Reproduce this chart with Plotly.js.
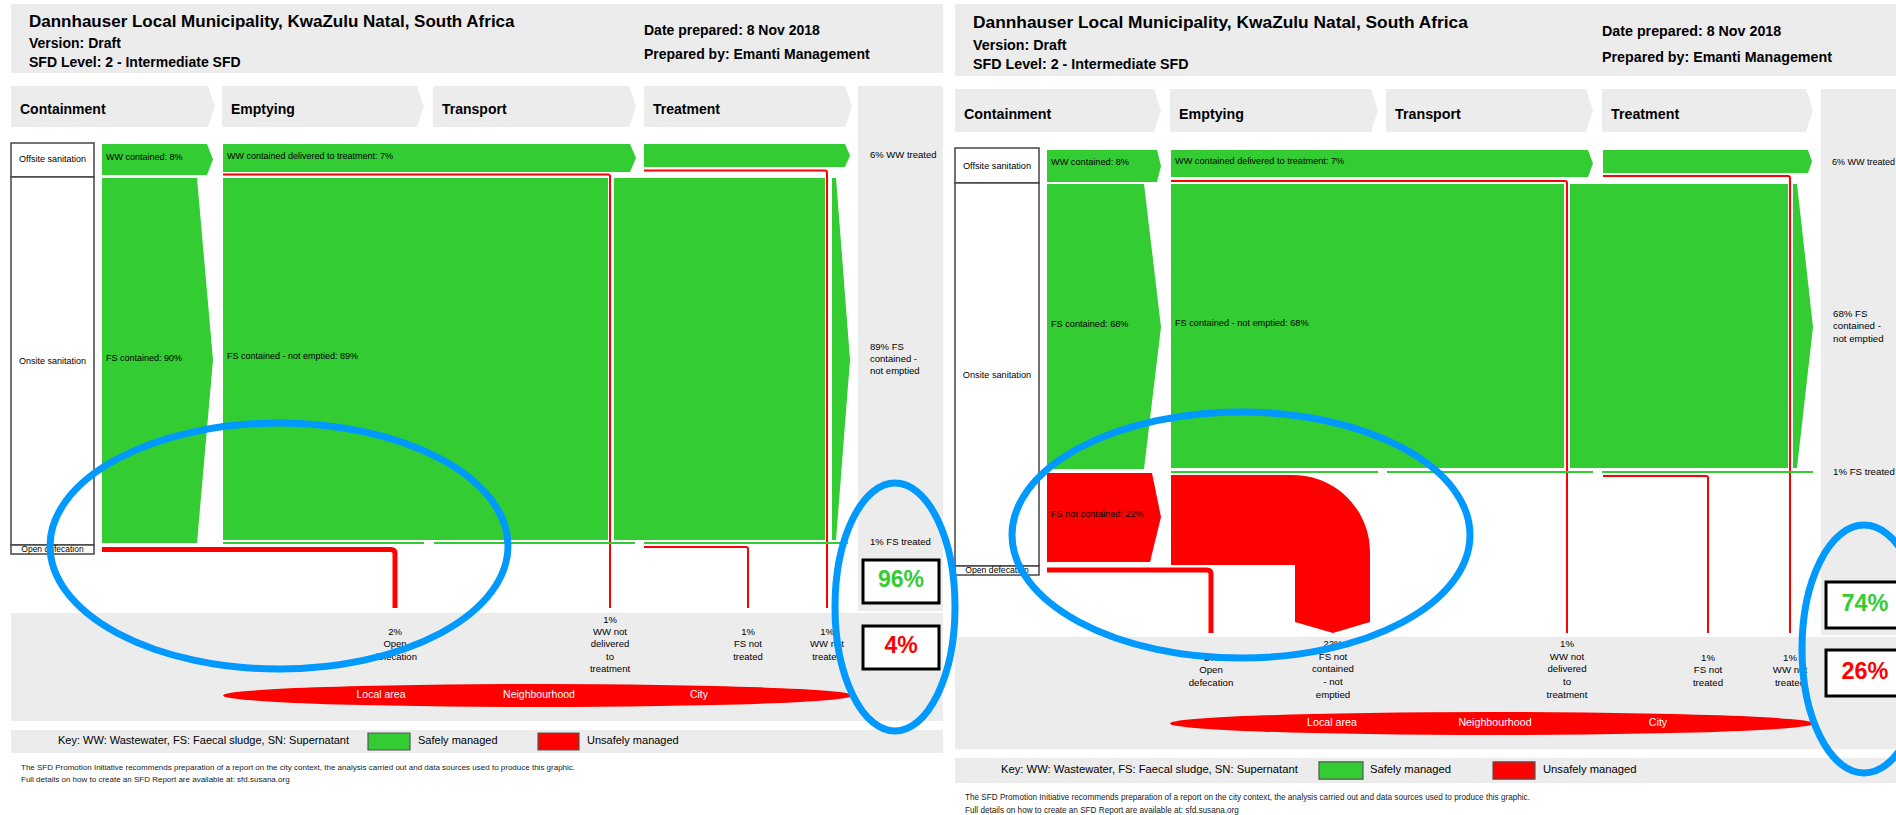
<!DOCTYPE html>
<html><head><meta charset="utf-8">
<script src="https://cdn.plot.ly/plotly-3.0.1.min.js"></script>
<style>html,body{margin:0;padding:0;background:#fff;overflow:hidden}#chart{width:1896px;height:815px}</style>
</head><body><div id="chart"></div>
<script>
// ---------------- DATA ----------------
const reportTitle = "Dannhauser Local Municipality, KwaZulu Natal, South Africa";
const reportMeta = ["Version: Draft", "SFD Level: 2 - Intermediate SFD"];
const reportPrep = ["Date prepared: 8 Nov 2018", "Prepared by: Emanti Management"];
const stageNames = ["Containment", "Emptying", "Transport", "Treatment"];
const systemRows = ["Offsite sanitation", "Onsite sanitation", "Open defecation"];
const impactAreas = ["Local area", "Neighbourhood", "City"];
const keyLabels = ["Key: WW: Wastewater, FS: Faecal sludge, SN: Supernatant", "Safely managed", "Unsafely managed"];
const footnoteLines = [
  "The SFD Promotion Initiative recommends preparation of a report on the city context, the analysis carried out and data sources used to produce this graphic.",
  "Full details on how to create an SFD Report are available at: sfd.susana.org"
];
// flow values in % : [left diagram, right diagram]
const wwContained = [8, 8];
const wwDelivered = [7, 7];
const wwTreated = [6, 6];
const wwNotDelivered = [1, 1];
const wwNotTreated = [1, 1];
const fsContained = [90, 68];
const fsContainedNotEmptied = [89, 68];
const fsTreated = [1, 1];
const fsNotTreated = [1, 1];
const fsNotContained = [null, 22];
const fsNotContainedNotEmptied = [null, 22];
const openDefecation = [2, 2];
const safelyManaged = [96, 74];
const unsafelyManaged = [4, 26];

// ---------------- HELPERS ----------------
const FONT = "Liberation Sans, Arial, Helvetica, sans-serif";
const GREEN = "#33cc33", RED = "#ff0000", GRAY = "#ececec", BLUE = "#0099ff";
const shapes = [];
const traces = [];

function rect(x0, y0, x1, y1, fill, lc, lw, layer) {
  shapes.push({type: 'rect', xref: 'x', yref: 'y', x0, y0, x1, y1, fillcolor: fill,
    line: {color: lc || 'rgba(0,0,0,0)', width: lw || 0}, layer: layer || 'below'});
}
function poly(pts, fill) {
  const d = 'M' + pts.map(p => p[0] + ',' + p[1]).join('L') + 'Z';
  shapes.push({type: 'path', xref: 'x', yref: 'y', path: d, fillcolor: fill, line: {width: 0}, layer: 'below'});
}
function pathFill(d, fill) {
  shapes.push({type: 'path', xref: 'x', yref: 'y', path: d, fillcolor: fill, line: {width: 0}, layer: 'below'});
}
function stroke(d, color, width) {
  shapes.push({type: 'path', xref: 'x', yref: 'y', path: d, fillcolor: 'rgba(0,0,0,0)', line: {color, width}, layer: 'below'});
}
function ellipse(x0, y0, x1, y1, fill, lc, lw, layer) {
  shapes.push({type: 'circle', xref: 'x', yref: 'y', x0, y0, x1, y1, fillcolor: fill || 'rgba(0,0,0,0)',
    line: {color: lc || 'rgba(0,0,0,0)', width: lw || 0}, layer: layer || 'below'});
}
function text(x, y, t, size, opt) {
  opt = opt || {};
  traces.push({type: 'scatter', mode: 'text', x: [x], y: [y], text: [t],
    textposition: opt.pos || 'middle right',
    textfont: {family: FONT, size: size, color: opt.color || '#000'},
    hoverinfo: 'skip', showlegend: false, cliponaxis: false});
}
function chev(x0, y0, xb, xt, y1) { return [[x0, y0], [xb, y0], [xt, (y0 + y1) / 2], [xb, y1], [x0, y1]]; }
function baseY(b, fs) { return b - 0.25 * fs; }

function drawFrame(g, s) {
  // header
  rect(g.hdr[0], g.hdr[1], g.hdr[2], g.hdr[3], GRAY);
  text(g.titleX, baseY(g.titleB, 17 * s), '<b>' + reportTitle + '</b>', 17 * s);
  text(g.titleX, baseY(g.metaB[0], 14 * s), '<b>' + reportMeta[0] + '</b>', 14 * s);
  text(g.titleX, baseY(g.metaB[1], 14 * s), '<b>' + reportMeta[1] + '</b>', 14 * s);
  text(g.dateX, baseY(g.dateB[0], 14 * s), '<b>' + reportPrep[0] + '</b>', 14 * s);
  text(g.dateX, baseY(g.dateB[1], 14 * s), '<b>' + reportPrep[1] + '</b>', 14 * s);
  // stage chevrons
  stageNames.forEach((n, i) => {
    const sx = g.stageX[i];
    poly(chev(sx[0], g.stageY[0], sx[1] - 7, sx[1], g.stageY[1]), GRAY);
    text(sx[0] + 9, baseY(g.stageB, 14 * s), '<b>' + n + '</b>', 14 * s);
  });
  // right summary column and bottom band
  rect(g.rightCol[0], g.rightCol[1], g.rightCol[2], g.rightCol[3], GRAY);
  rect(g.band[0], g.band[1], g.band[2], g.band[3], GRAY);
  // row label boxes
  for (let i = 0; i < 3; i++) {
    rect(g.rowX[0], g.rowY[i], g.rowX[1], g.rowY[i + 1], '#ffffff', '#444', 1.5);
    text((g.rowX[0] + g.rowX[1]) / 2, g.rowLabelY[i], systemRows[i], (i === 2 ? 8.5 : 9) * s, {pos: 'middle center'});
  }
  // impact ellipse
  ellipse(g.impact[0], g.impact[1], g.impact[2], g.impact[3], RED);
  impactAreas.forEach((a, i) => text(g.impactX[i], (g.impact[1] + g.impact[3]) / 2, a, 10.5 * s, {pos: 'middle center', color: '#ffffff'}));
  // key
  rect(g.key[0], g.key[1], g.key[2], g.key[3], GRAY);
  const ky = (g.key[1] + g.key[3]) / 2;
  text(g.keyX[0], ky, keyLabels[0], 11 * s);
  rect(g.keyBox[0][0], ky - 8.5 * s, g.keyBox[0][1], ky + 8.5 * s, GREEN, '#555', 1.2);
  text(g.keyX[1], ky, keyLabels[1], 11 * s);
  rect(g.keyBox[1][0], ky - 8.5 * s, g.keyBox[1][1], ky + 8.5 * s, RED, '#555', 1.2);
  text(g.keyX[2], ky, keyLabels[2], 11 * s);
  // footnote
  text(g.footX, g.footY[0], footnoteLines[0], 8 * s, {color: '#222'});
  text(g.footX, g.footY[1], footnoteLines[1], 8 * s, {color: '#222'});
}
function drawOutcome(g, s, k) {
  const b1 = g.okBox, b2 = g.badBox;
  rect(b1[0], b1[1], b1[2], b1[3], '#ffffff', '#000', 3);
  rect(b2[0], b2[1], b2[2], b2[3], '#ffffff', '#000', 3);
  text((b1[0] + b1[2]) / 2, (b1[1] + b1[3]) / 2, '<b>' + safelyManaged[k] + '%</b>', 23 * s, {pos: 'middle center', color: GREEN});
  text((b2[0] + b2[2]) / 2, (b2[1] + b2[3]) / 2, '<b>' + unsafelyManaged[k] + '%</b>', 23 * s, {pos: 'middle center', color: RED});
}

// ---------------- LEFT DIAGRAM ----------------
const gL = {
  hdr: [11, 4, 943, 73], titleX: 29, titleB: 27, metaB: [48, 67], dateX: 644, dateB: [35, 59],
  stageY: [86, 127], stageX: [[11, 215], [222, 424], [433, 636], [644, 852]], stageB: 114,
  rightCol: [858, 86, 943, 611], band: [11, 613, 943, 721],
  rowX: [11, 94], rowY: [143, 177, 545, 554], rowLabelY: [160, 362, 550],
  impact: [223, 684, 853, 707], impactX: [381, 539, 699],
  key: [11, 730, 943, 753], keyX: [58, 418, 587], keyBox: [[368, 410], [538, 579]],
  footX: 21, footY: [768, 780],
  okBox: [863, 560, 939, 603], badBox: [863, 626, 939, 669]
};
drawFrame(gL, 1);
(function () {
  const k = 0, s = 1;
  // wastewater
  poly(chev(102, 144, 207, 213, 175), GREEN);
  poly(chev(223, 144, 630, 636, 172), GREEN);
  poly(chev(644, 144, 845, 850, 167), GREEN);
  stroke('M223,174.5 H608 Q610,174.5 610,176.5 V608', RED, 2);
  stroke('M644,170.5 H825 Q827,170.5 827,172.5 V608', RED, 2);
  // faecal sludge
  poly([[102, 178], [197, 178], [213, 360], [197, 543], [102, 543]], GREEN);
  rect(223, 178, 608, 540, GREEN);
  rect(614, 178, 825, 540, GREEN);
  poly([[832, 178], [836, 178], [850, 360], [836, 540], [832, 540]], GREEN);
  rect(223, 542, 424, 544, GREEN); rect(434, 542, 635, 544, GREEN); rect(644, 542, 848, 544, GREEN);
  stroke('M644,547 H746 Q748,547 748,549 V608', RED, 2);
  stroke('M102,549.5 H391 Q395,549.5 395,553.5 V608', RED, 5);
  // flow labels
  text(106, 158, 'WW contained: ' + wwContained[k] + '%', 9);
  text(227, 157, 'WW contained delivered to treatment: ' + wwDelivered[k] + '%', 9);
  text(106, 359, 'FS contained: ' + fsContained[k] + '%', 9);
  text(227, 357, 'FS contained - not emptied: ' + fsContainedNotEmptied[k] + '%', 9);
  text(870, 156, wwTreated[k] + '% WW treated', 9.5);
  text(870, 359.5, fsContainedNotEmptied[k] + '% FS<br>contained -<br>not emptied', 9.5);
  text(870, 543, fsTreated[k] + '% FS treated', 9.5);
  text(395, 645, openDefecation[k] + '%<br>Open<br>defecation', 9.5, {pos: 'middle center'});
  text(610, 645, wwNotDelivered[k] + '%<br>WW not<br>delivered<br>to<br>treatment', 9.5, {pos: 'middle center'});
  text(748, 645, fsNotTreated[k] + '%<br>FS not<br>treated', 9.5, {pos: 'middle center'});
  text(827, 645, wwNotTreated[k] + '%<br>WW not<br>treated', 9.5, {pos: 'middle center'});
  drawOutcome(gL, s, k);
})();

// ---------------- RIGHT DIAGRAM ----------------
const gR = {
  hdr: [955, 4, 1905, 76], titleX: 973, titleB: 28, metaB: [50, 69], dateX: 1602, dateB: [36, 62],
  stageY: [89, 132], stageX: [[955, 1161], [1170, 1378], [1386, 1593], [1602, 1813]], stageB: 119,
  rightCol: [1821, 89, 1905, 635], band: [955, 637, 1905, 749],
  rowX: [955, 1039], rowY: [148, 183, 566, 575], rowLabelY: [167, 376, 571],
  impact: [1170, 712, 1814, 735], impactX: [1332, 1495, 1658],
  key: [955, 758, 1905, 783], keyX: [1001, 1370, 1543], keyBox: [[1319, 1363], [1493, 1535]],
  footX: 965, footY: [798, 811],
  okBox: [1826, 582, 1904, 628], badBox: [1826, 650, 1904, 696]
};
drawFrame(gR, 1.02);
(function () {
  const k = 1, s = 1.02;
  // wastewater
  poly(chev(1047, 150, 1157, 1161, 182), GREEN);
  poly(chev(1171, 150, 1588, 1593, 177), GREEN);
  poly(chev(1603, 150, 1808, 1812, 173), GREEN);
  stroke('M1171,181 H1565 Q1567,181 1567,183 V633', RED, 2);
  stroke('M1603,176 H1788 Q1790,176 1790,178 V633', RED, 2);
  // faecal sludge contained
  poly([[1047, 184], [1144, 184], [1161, 327], [1144, 469], [1047, 469]], GREEN);
  rect(1171, 184, 1564, 468, GREEN);
  rect(1570, 184, 1788, 468, GREEN);
  poly([[1793, 184], [1797, 184], [1813, 327], [1797, 468], [1793, 468]], GREEN);
  rect(1171, 471, 1378, 473, GREEN); rect(1387, 471, 1593, 473, GREEN); rect(1602, 471, 1813, 473, GREEN);
  stroke('M1603,476 H1706 Q1708,476 1708,478 V633', RED, 2);
  // faecal sludge not contained
  poly([[1047, 473], [1152, 473], [1161, 517], [1150, 562], [1047, 562]], RED);
  pathFill('M1171,475 L1293,475 C1336,475 1370,510 1370,552 L1370,622 L1333,633 L1295,622 L1295,565 L1171,565 Z', RED);
  // open defecation
  stroke('M1047,570 H1207 Q1211,570 1211,574 V633', RED, 5);
  // flow labels
  text(1051, 163, 'WW contained: ' + wwContained[k] + '%', 9 * s);
  text(1175, 162, 'WW contained delivered to treatment: ' + wwDelivered[k] + '%', 9 * s);
  text(1051, 325, 'FS contained: ' + fsContained[k] + '%', 9 * s);
  text(1175, 324, 'FS contained - not emptied: ' + fsContainedNotEmptied[k] + '%', 9 * s);
  text(1051, 515, 'FS not contained: ' + fsNotContained[k] + '%', 9 * s);
  text(1832, 163, wwTreated[k] + '% WW treated', 9);
  text(1833, 327, fsContainedNotEmptied[k] + '% FS<br>contained -<br>not emptied', 9.5 * s);
  text(1833, 473, fsTreated[k] + '% FS treated', 9.5 * s);
  text(1211, 671, openDefecation[k] + '%<br>Open<br>defecation', 9.5 * s, {pos: 'middle center'});
  text(1333, 670, fsNotContainedNotEmptied[k] + '%<br>FS not<br>contained<br>- not<br>emptied', 9.5 * s, {pos: 'middle center'});
  text(1567, 670, wwNotDelivered[k] + '%<br>WW not<br>delivered<br>to<br>treatment', 9.5 * s, {pos: 'middle center'});
  text(1708, 671, fsNotTreated[k] + '%<br>FS not<br>treated', 9.5 * s, {pos: 'middle center'});
  text(1790, 671, wwNotTreated[k] + '%<br>WW not<br>treated', 9.5 * s, {pos: 'middle center'});
  drawOutcome(gR, s, k);
})();

// ---------------- HIGHLIGHT RINGS ----------------
ellipse(50, 423, 508, 669, null, BLUE, 7, 'above');
ellipse(835, 483, 955, 731, null, BLUE, 7, 'above');
ellipse(1012, 412, 1470, 658, null, BLUE, 7, 'above');
ellipse(1802, 525, 1926, 773, null, BLUE, 7, 'above');

const layout = {
  width: 1896, height: 815, margin: {l: 0, r: 0, t: 0, b: 0, pad: 0},
  paper_bgcolor: '#ffffff', plot_bgcolor: '#ffffff', showlegend: false,
  xaxis: {range: [0, 1896], visible: false, showgrid: false, zeroline: false, fixedrange: true},
  yaxis: {range: [815, 0], visible: false, showgrid: false, zeroline: false, fixedrange: true},
  shapes: shapes
};
Plotly.newPlot('chart', traces, layout, {staticPlot: true, displayModeBar: false});
</script></body></html>
